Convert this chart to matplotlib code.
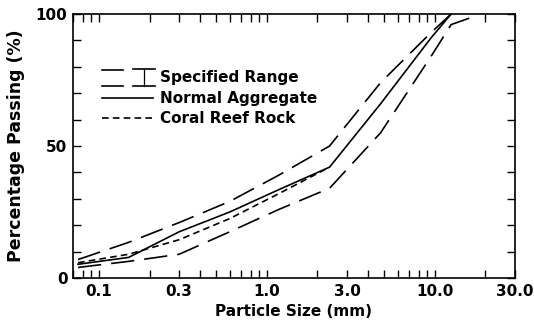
import matplotlib
matplotlib.use("Agg")
import matplotlib.pyplot as plt
from matplotlib.ticker import FixedLocator, LogLocator, NullFormatter, MultipleLocator

# sieve sizes (mm) and percentage passing
sieve = [0.075, 0.15, 0.3, 0.6, 1.18, 2.36, 4.75, 9.5, 12.5]
upper = [7, 13.5, 21, 29, 39, 50, 74, 93, 100]
lower_sieve = [0.075, 0.15, 0.3, 0.6, 1.18, 2.36, 4.75, 9.5, 12.5, 17]
lower = [4, 6.3, 9, 17.5, 26, 34, 55, 84, 96, 99]
normal = [5.2, 7.8, 17.5, 25, 33.5, 42, 66, 91, 100]
coral_sieve = [0.075, 0.15, 0.3, 0.6, 1.18, 2.36]
coral = [5.8, 9, 14.5, 22.5, 32, 42]

x_ticks = [0.1, 0.3, 1.0, 3.0, 10.0, 30.0]
x_labels = ["0.1", "0.3", "1.0", "3.0", "10.0", "30.0"]
y_ticks = [0, 50, 100]

plt.rcParams["font.family"] = "DejaVu Sans"
fig = plt.figure(figsize=(5.34, 3.26), dpi=100)
ax = fig.add_axes([0.1367, 0.1472, 0.8277, 0.8098])

lw = 1.2
ax.plot(sieve, upper, color="black", lw=lw, dashes=(14, 6))
ax.plot(lower_sieve, lower, color="black", lw=lw, dashes=(14, 6))
ax.plot(sieve, normal, color="black", lw=lw)
ax.plot(coral_sieve, coral, color="black", lw=lw, dashes=(4, 2.5))

ax.set_xscale("log")
ax.set_xlim(0.07, 30)
ax.set_ylim(0, 100)
ax.xaxis.set_major_locator(FixedLocator(x_ticks))
ax.set_xticklabels(x_labels, fontweight="bold")
ax.xaxis.set_minor_locator(LogLocator(base=10, subs=range(2, 10), numticks=20))
ax.xaxis.set_minor_formatter(NullFormatter())
ax.set_yticks(y_ticks)
ax.set_yticklabels([str(v) for v in y_ticks], fontweight="bold")
ax.yaxis.set_minor_locator(MultipleLocator(10))

for which in ("major", "minor"):
    ax.tick_params(axis="both", which=which, direction="in", length=6, width=1,
                   top=True, right=True)
ax.tick_params(axis="both", which="major", labelsize=11, pad=4)
for s in ax.spines.values():
    s.set_linewidth(1.2)

ax.set_xlabel("Particle Size (mm)", fontsize=11, fontweight="bold", labelpad=4)
ax.set_ylabel("Percentage Passing (%)", fontsize=12.5, fontweight="bold", labelpad=8)

# hand-drawn legend in axes coordinates
tr = ax.transAxes
kw = dict(color="black", lw=lw, transform=tr, clip_on=False)
tkw = dict(transform=tr, fontsize=11, fontweight="bold", va="center")
ax.plot([0.065, 0.114], [0.788, 0.788], **kw)
ax.plot([0.065, 0.114], [0.729, 0.729], **kw)
ax.plot([0.136, 0.186], [0.792, 0.792], **kw)
ax.plot([0.136, 0.186], [0.729, 0.729], **kw)
ax.plot([0.161, 0.161], [0.792, 0.729], color="black", lw=0.9, transform=tr)
ax.text(0.197, 0.760, "Specified Range", **tkw)
ax.plot([0.065, 0.182], [0.681, 0.681], **kw)
ax.text(0.197, 0.681, "Normal Aggregate", **tkw)
ax.plot([0.065, 0.186], [0.605, 0.605], dashes=(4, 2.5), **kw)
ax.text(0.197, 0.605, "Coral Reef Rock", **tkw)

fig.savefig("out.png", dpi=100)
